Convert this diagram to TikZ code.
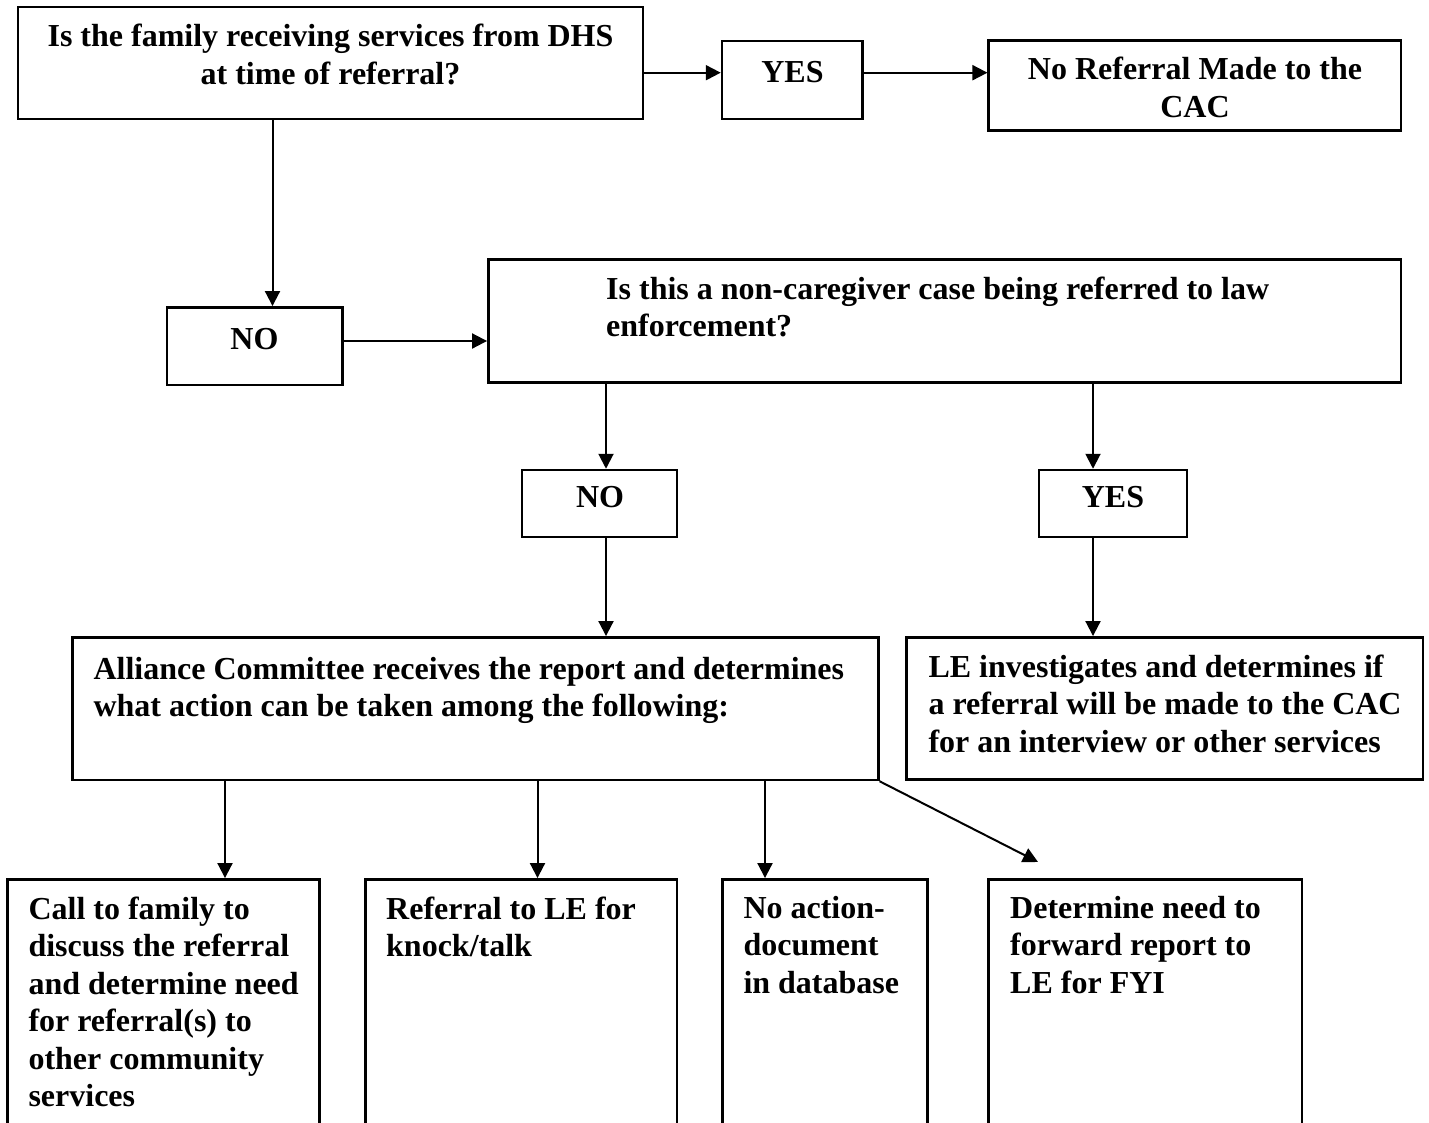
\documentclass[tikz,border=0pt]{standalone}
\usepackage{fontspec}
\setmainfont{Liberation Serif}
\usetikzlibrary{arrows.meta,fit}
\newcommand\natsp{\spaceskip=\fontdimen2\font\xspaceskip=\fontdimen2\font\relax}
\begin{document}
\begin{tikzpicture}[x=1pt,y=-1pt,
  boxst/.style={draw,line width=2.5pt,inner sep=0pt,rectangle},
  txt/.style={inner sep=0pt,font=\fontsize{32}{37.5}\selectfont\bfseries},
  ltxt/.style={txt,text width=900pt,align=left,anchor=base west},
  ctxt/.style={txt,text width=600pt,align=center,anchor=base},
  arr/.style={line width=2pt,-{Triangle[length=15pt,width=15pt]}}]
\useasboundingbox (0,0) rectangle (1429,1123);
\clip (0,0) rectangle (1429,1123);
\fill[white] (0,0) rectangle (1429,1123);
% boxes
\node[boxst,fit={(18,7) (643,119)}] (q1) {};
\node[boxst,fit={(722,41) (862.5,119)}] (yes1) {};
\node[boxst,fit={(988.7,40.7) (1401,130.7)}] (noref) {};
\node[boxst,fit={(167,307.3) (342.7,385)}] (no1) {};
\node[boxst,fit={(488.3,259.3) (1401,382.7)}] (q2) {};
\node[boxst,fit={(522,470) (677,537)}] (no2) {};
\node[boxst,fit={(1039,470) (1187,537)}] (yes2) {};
\node[boxst,fit={(72.7,637.3) (878.3,780)}] (alli) {};
\node[boxst,fit={(906.7,637.3) (1423,779.3)}] (le) {};
\node[boxst,fit={(7.3,879.3) (319.3,1160)}] (b1) {};
\node[boxst,fit={(365.3,879.3) (677,1160)}] (b2) {};
\node[boxst,fit={(722.7,879.3) (927.3,1160)}] (b3) {};
\node[boxst,fit={(988.7,879.3) (1302,1160)}] (b4) {};
% texts
\node[ctxt] (q1t) at (330.5,46.7) {\natsp Is the family receiving services from DHS\\at time of referral?};
\node[ctxt] (yes1t) at (792.5,83) {\natsp YES};
\node[ctxt] (noreft) at (1195,80) {\natsp No Referral Made to the\\CAC};
\node[ctxt] (no1t) at (254.5,349) {\natsp NO};
\node[ltxt] (q2t) at (606,299.3) {\natsp Is this a non-caregiver case being referred to law\\enforcement?};
\node[ctxt] (no2t) at (600,507) {\natsp NO};
\node[ctxt] (yes2t) at (1113,507.5) {\natsp YES};
\node[ltxt] (allit) at (93.3,679.3) {\natsp Alliance Committee receives the report and determines\\what action can be taken among the following:};
\node[ltxt] (let) at (928.3,677.3) {\natsp LE investigates and determines if\\a referral will be made to the CAC\\for an interview or other services};
\node[ltxt] (b1t) at (28.3,919.3) {\natsp Call to family to\\discuss the referral\\and determine need\\for referral(s) to\\other community\\services};
\node[ltxt] (b2t) at (386,919.3) {\natsp Referral to LE for\\knock/talk};
\node[ltxt] (b3t) at (743.3,918.3) {\natsp No action-\\document\\in database};
\node[ltxt] (b4t) at (1010,918.3) {\natsp Determine need to\\forward report to\\LE for FYI};
% guide coordinates
\coordinate (r1) at (0,72.7);
\coordinate (r2) at (0,341);
\coordinate (c1) at (272.5,0);
\coordinate (c2) at (606,0);
\coordinate (c3) at (1093,0);
\coordinate (c4) at (225,0);
\coordinate (c5) at (537.5,0);
\coordinate (c6) at (765,0);
\coordinate (fyi) at (1038,862);
% connectors
\draw[arr] (q1.east |- r1) -- (yes1.west |- r1);
\draw[arr] (yes1.east |- r1) -- (noref.west |- r1);
\draw[arr] (q1.south -| c1) -- (no1.north -| c1);
\draw[arr] (no1.east |- r2) -- (q2.west |- r2);
\draw[arr] (q2.south -| c2) -- (no2.north -| c2);
\draw[arr] (q2.south -| c3) -- (yes2.north -| c3);
\draw[arr] (no2.south -| c2) -- (alli.north -| c2);
\draw[arr] (yes2.south -| c3) -- (le.north -| c3);
\draw[arr] (alli.south -| c4) -- (b1.north -| c4);
\draw[arr] (alli.south -| c5) -- (b2.north -| c5);
\draw[arr] (alli.south -| c6) -- (b3.north -| c6);
\draw[arr] (alli.south east) -- (fyi);
\end{tikzpicture}
\end{document}
